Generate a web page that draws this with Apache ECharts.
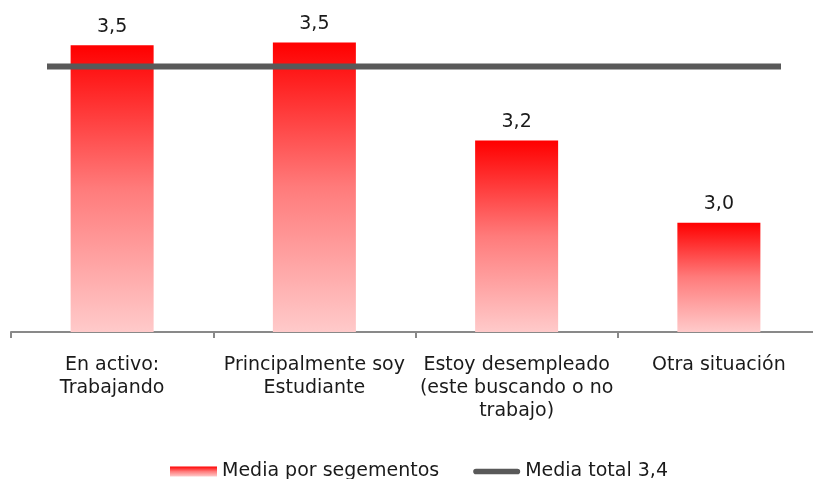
<!DOCTYPE html>
<html>
<head>
<meta charset="utf-8">
<script src="https://cdn.jsdelivr.net/npm/echarts@6/dist/echarts.min.js"></script>
<style>
  html, body { margin: 0; padding: 0; background: #fff; overflow: hidden; }
  /* the original chart is cut on the right, so the canvas is a bit wider than the window */
  #chart { width: 830px; height: 479px; }
</style>
</head>
<body>
<div id="chart"></div>
<script>
// categorías y valores
const categories = [
  "En activo:\nTrabajando",
  "Principalmente soy\nEstudiante",
  "Estoy desempleado\n(este buscando o no\ntrabajo)",
  "Otra situación"
];
const mediaSegmentos = [3.484, 3.491, 3.24, 3.03];
const mediaTotal = 3.43;
const totalLinePoints = ["ini", "fin"];

const fmt = (v) => v.toFixed(1).replace(".", ",");
const font = "DejaVu Sans";

const barGradient = new echarts.graphic.LinearGradient(0, 0, 0, 1, [
  { offset: 0, color: "#ff0000" },
  { offset: 0.5, color: "#ff7b7b" },
  { offset: 1, color: "#ffcaca" }
]);

const chart = echarts.init(document.getElementById("chart"));
chart.setOption({
  animation: false,
  textStyle: { fontFamily: font },
  grid: [
    { left: 11, width: 809, top: 0, bottom: 147 },
    { left: 47, width: 734, top: 0, bottom: 147 }
  ],
  legend: {
    left: 165,
    top: 457,
    itemWidth: 47,
    itemHeight: 10,
    itemGap: 34,
    textStyle: { fontFamily: font, fontSize: 19, color: "#1a1a1a" },
    data: [
      { name: "Media por segementos", icon: "rect" },
      {
        name: "Media total 3,4",
        icon: "path://M3,0 H47 A3,3 0 0 1 47,6 H3 A3,3 0 0 1 3,0 Z",
        itemStyle: { color: "#595959" }
      }
    ]
  },
  xAxis: [
    {
      type: "category",
      gridIndex: 0,
      data: categories,
      axisLine: { lineStyle: { color: "#898989", width: 2 } },
      axisTick: { show: true, length: 6, lineStyle: { color: "#898989", width: 2 } },
      axisLabel: {
        margin: 22,
        interval: 0,
        fontFamily: font,
        fontSize: 19,
        lineHeight: 23,
        color: "#1a1a1a"
      }
    },
    {
      type: "category",
      gridIndex: 1,
      data: totalLinePoints,
      boundaryGap: false,
      show: false
    }
  ],
  yAxis: [
    { type: "value", gridIndex: 0, min: 2.75, max: 3.6, show: false, splitLine: { show: false } },
    { type: "value", gridIndex: 1, min: 2.75, max: 3.6, show: false, splitLine: { show: false } }
  ],
  series: [
    {
      name: "Media por segementos",
      type: "bar",
      xAxisIndex: 0,
      yAxisIndex: 0,
      barWidth: 83,
      data: mediaSegmentos,
      itemStyle: { color: barGradient },
      label: {
        show: true,
        position: "top",
        distance: 9,
        fontFamily: font,
        fontSize: 19,
        color: "#1a1a1a",
        formatter: (p) => fmt(p.value)
      }
    },
    {
      name: "Media total 3,4",
      type: "line",
      xAxisIndex: 1,
      yAxisIndex: 1,
      z: 5,
      symbol: "none",
      data: totalLinePoints.map(() => mediaTotal),
      lineStyle: { color: "#595959", width: 6, cap: "butt" },
      itemStyle: { color: "#595959" }
    }
  ]
});
</script>
</body>
</html>
